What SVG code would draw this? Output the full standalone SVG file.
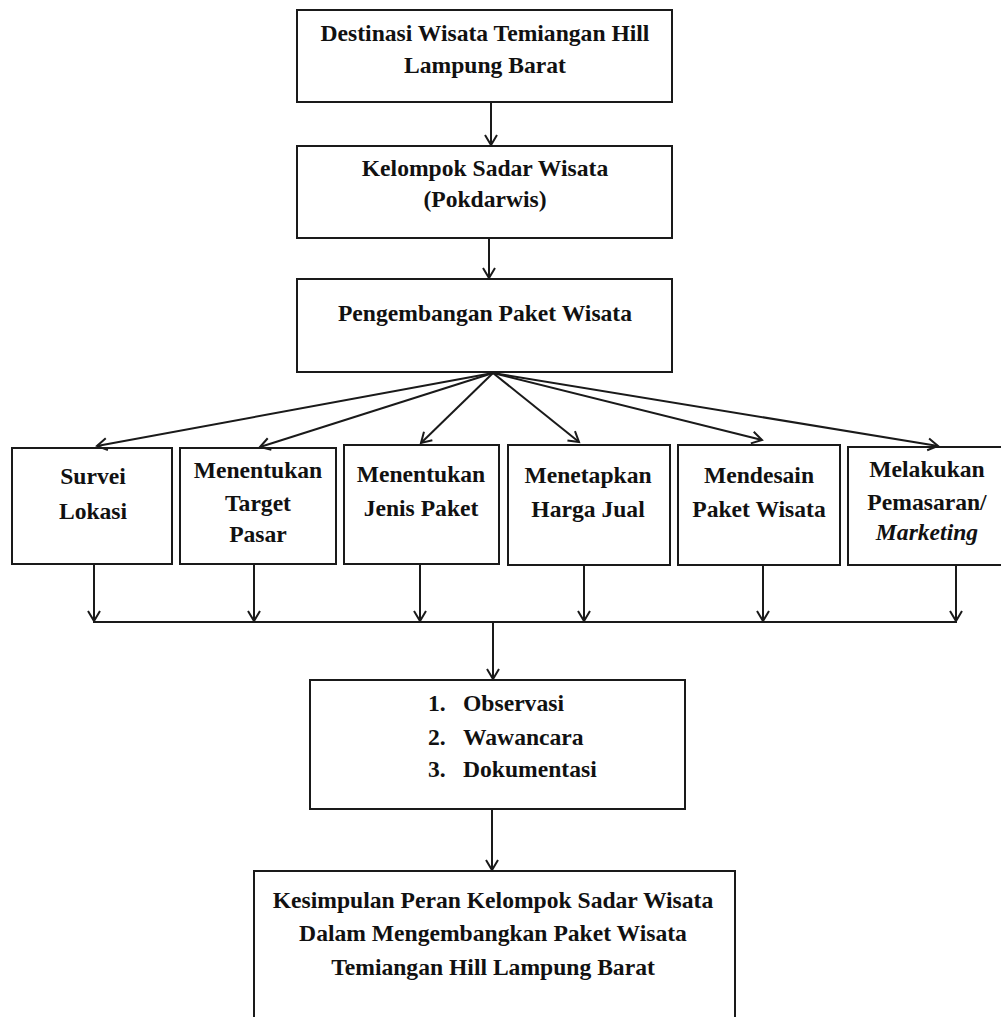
<svg xmlns="http://www.w3.org/2000/svg" width="1001" height="1017" viewBox="0 0 1001 1017">
<style>
.box{fill:#fff;stroke:#1a1a1a;stroke-width:2}
.t{font-family:"Liberation Serif","Times New Roman",serif;font-weight:bold;font-size:23.6px;fill:#111;text-anchor:middle}
.l{text-anchor:start}
.c{fill:none;stroke:#1a1a1a;stroke-width:2}
</style>
<defs>
<marker id="ah" markerUnits="userSpaceOnUse" markerWidth="14" markerHeight="16" refX="11" refY="7" orient="auto" viewBox="0 0 14 16">
<path d="M1,1 L11,7 L1,13" fill="none" stroke="#1a1a1a" stroke-width="2"/>
</marker>
</defs>
<rect width="1001" height="1017" fill="#fff"/>
<g id="n1"><rect class="box" x="297" y="10" width="375" height="92"/>
<text class="t" x="485" y="41">Destinasi Wisata Temiangan Hill</text>
<text class="t" x="485" y="73">Lampung Barat</text></g>
<g id="n2"><rect class="box" x="297" y="146" width="375" height="92"/>
<text class="t" x="485" y="176">Kelompok Sadar Wisata</text>
<text class="t" x="485" y="207">(Pokdarwis)</text></g>
<g id="n3"><rect class="box" x="297" y="279" width="375" height="93"/>
<text class="t" x="485" y="321">Pengembangan Paket Wisata</text></g>
<g id="a"><rect class="box" x="12" y="448" width="160" height="116"/>
<text class="t" x="93" y="484">Survei</text>
<text class="t" x="93" y="519">Lokasi</text></g>
<g id="b"><rect class="box" x="180" y="448" width="156" height="116"/>
<text class="t" x="258" y="478">Menentukan</text>
<text class="t" x="258" y="511">Target</text>
<text class="t" x="258" y="542">Pasar</text></g>
<g id="c"><rect class="box" x="344" y="445" width="155" height="119"/>
<text class="t" x="421" y="482">Menentukan</text>
<text class="t" x="421" y="516">Jenis Paket</text></g>
<g id="d"><rect class="box" x="508" y="445" width="162" height="120"/>
<text class="t" x="588" y="483">Menetapkan</text>
<text class="t" x="588" y="517">Harga Jual</text></g>
<g id="e"><rect class="box" x="678" y="445" width="162" height="120"/>
<text class="t" x="759" y="483">Mendesain</text>
<text class="t" x="759" y="517">Paket Wisata</text></g>
<g id="f"><rect class="box" x="848" y="447" width="170" height="118"/>
<text class="t" x="927" y="477">Melakukan</text>
<text class="t" x="927" y="510">Pemasaran/</text>
<text class="t" x="927" y="540" font-style="italic">Marketing</text></g>
<g id="n4"><rect class="box" x="310" y="680" width="375" height="129"/>
<text class="t l" x="428" y="711">1.</text><text class="t l" x="463" y="711">Observasi</text>
<text class="t l" x="428" y="745">2.</text><text class="t l" x="463" y="745">Wawancara</text>
<text class="t l" x="428" y="777">3.</text><text class="t l" x="463" y="777">Dokumentasi</text></g>
<g id="n5"><rect class="box" x="254" y="871" width="481" height="160"/>
<text class="t" x="493" y="908">Kesimpulan Peran Kelompok Sadar Wisata</text>
<text class="t" x="493" y="941">Dalam Mengembangkan Paket Wisata</text>
<text class="t" x="493" y="975">Temiangan Hill Lampung Barat</text></g>
<g id="connectors" class="c">
<line x1="491" y1="102" x2="491" y2="145" marker-end="url(#ah)"/>
<line x1="489" y1="238" x2="489" y2="278" marker-end="url(#ah)"/>
<line x1="493" y1="373" x2="97" y2="446" marker-end="url(#ah)"/>
<line x1="493" y1="373" x2="260" y2="447" marker-end="url(#ah)"/>
<line x1="493" y1="373" x2="421" y2="443" marker-end="url(#ah)"/>
<line x1="493" y1="373" x2="579" y2="442" marker-end="url(#ah)"/>
<line x1="493" y1="373" x2="762" y2="440" marker-end="url(#ah)"/>
<line x1="493" y1="373" x2="938" y2="446" marker-end="url(#ah)"/>
<line x1="94" y1="565" x2="94" y2="621" marker-end="url(#ah)"/>
<line x1="254" y1="565" x2="254" y2="621" marker-end="url(#ah)"/>
<line x1="420" y1="565" x2="420" y2="621" marker-end="url(#ah)"/>
<line x1="584" y1="565" x2="584" y2="621" marker-end="url(#ah)"/>
<line x1="763" y1="565" x2="763" y2="621" marker-end="url(#ah)"/>
<line x1="956" y1="565" x2="956" y2="621" marker-end="url(#ah)"/>
<line x1="93" y1="622" x2="957" y2="622"/>
<line x1="493" y1="622" x2="493" y2="679" marker-end="url(#ah)"/>
<line x1="492" y1="809" x2="492" y2="870" marker-end="url(#ah)"/>
</g>
</svg>
